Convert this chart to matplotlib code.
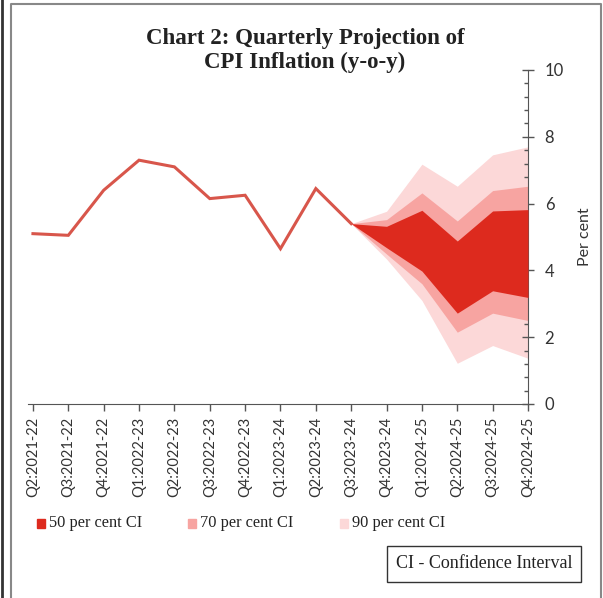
import matplotlib.pyplot as plt
from matplotlib.lines import Line2D
from matplotlib.patches import Rectangle
from matplotlib.ticker import MultipleLocator

quarters = [
    "Q2:2021-22", "Q3:2021-22", "Q4:2021-22", "Q1:2022-23", "Q2:2022-23",
    "Q3:2022-23", "Q4:2022-23", "Q1:2023-24", "Q2:2023-24", "Q3:2023-24",
    "Q4:2023-24", "Q1:2024-25", "Q2:2024-25", "Q3:2024-25", "Q4:2024-25",
]

# actual CPI inflation, up to Q3:2023-24
actual = [5.1, 5.05, 6.4, 7.3, 7.1, 6.15, 6.25, 4.65, 6.45, 5.4]

# projection bands, from Q3:2023-24 to Q4:2024-25
ci50_hi = [5.4, 5.32, 5.8, 4.88, 5.78, 5.82]
ci50_lo = [5.4, 4.68, 3.98, 2.72, 3.39, 3.19]
ci70_hi = [5.4, 5.52, 6.32, 5.48, 6.39, 6.52]
ci70_lo = [5.4, 4.49, 3.6, 2.15, 2.72, 2.5]
ci90_hi = [5.4, 5.77, 7.18, 6.52, 7.46, 7.7]
ci90_lo = [5.4, 4.34, 3.1, 1.22, 1.75, 1.37]

serif = ["Liberation Serif", "DejaVu Serif"]
sans = ["Lato", "DejaVu Sans"]

c50 = "#dd2a1e"
c70 = "#f7a4a1"
c90 = "#fcd8d8"
line_col = "#d8564b"

fig = plt.figure(figsize=(6.03, 5.98), dpi=100)
ax = fig.add_axes([28 / 603, 1 - 404 / 598, 500 / 603, 334 / 598])

x_act = list(range(len(actual)))
x_proj = list(range(len(actual) - 1, len(quarters)))

ax.fill_between(x_proj, ci90_lo, ci90_hi, color=c90, lw=0, zorder=1)
ax.fill_between(x_proj, ci70_lo, ci70_hi, color=c70, lw=0, zorder=2)
ax.fill_between(x_proj, ci50_lo, ci50_hi, color=c50, lw=0, zorder=3)
ax.plot(x_act, actual, color=line_col, lw=2.2, zorder=4, solid_joinstyle="miter")

ax.set_xlim(-0.14, len(quarters) - 1)
ax.set_ylim(0, 10)

for s in ["top", "left"]:
    ax.spines[s].set_visible(False)
ax.spines["bottom"].set_color("#555555")
ax.spines["right"].set_color("#555555")

ax.yaxis.tick_right()
ax.yaxis.set_label_position("right")
ax.set_yticks(range(0, 11, 2))
ax.yaxis.set_minor_locator(MultipleLocator(0.4))
ax.tick_params(axis="y", which="major", direction="inout", length=8, width=1,
               color="#555555", labelsize=12, pad=8, labelcolor="#333333")
ax.tick_params(axis="y", which="minor", direction="in", length=3, width=1,
               color="#555555")
ax.set_ylabel("Per cent", fontsize=11.5, family=sans, labelpad=10, color="#333333")

ax.set_xticks(range(len(quarters)))
ax.set_xticklabels(quarters, rotation=90, family=sans, fontsize=10.5, color="#333333")
ax.tick_params(axis="x", direction="out", length=5, width=1, color="#555555", pad=4)
for lab in ax.get_yticklabels():
    lab.set_family(sans)

fig.text(0.506, 0.916, "Chart 2: Quarterly Projection of\nCPI Inflation (y-o-y)",
         ha="center", va="center", fontsize=16.5, fontweight="bold", family=serif,
         linespacing=1.15, color="#222222")

# legend row
legend_items = [("50 per cent CI", c50, 37), ("70 per cent CI", c70, 188),
                ("90 per cent CI", c90, 340)]
for label, col, px in legend_items:
    fig.patches.append(Rectangle((px / 603, 1 - 528 / 598), 8 / 603, 9 / 598,
                                 transform=fig.transFigure, color=col))
    fig.text((px + 12) / 603, 1 - 523 / 598, label, ha="left", va="center",
             fontsize=11.8, family=serif, color="#222222")

fig.text(484 / 603, 1 - 564 / 598, "CI - Confidence Interval", ha="center",
         va="center", fontsize=13, family=serif, color="#222222",
         bbox=dict(boxstyle="square,pad=0.5", fc="white", ec="#333333", lw=1))

# frame lines around the figure
fig.lines.append(Line2D([2 / 603, 2 / 603], [0, 1], transform=fig.transFigure,
                        color="#333333", lw=2))
fig.lines.append(Line2D([11 / 603, 11 / 603, 601 / 603, 601 / 603],
                        [0, 1 - 4 / 598, 1 - 4 / 598, 0],
                        transform=fig.transFigure, color="#888888", lw=1.5))

fig.savefig("out.png", dpi=100)
